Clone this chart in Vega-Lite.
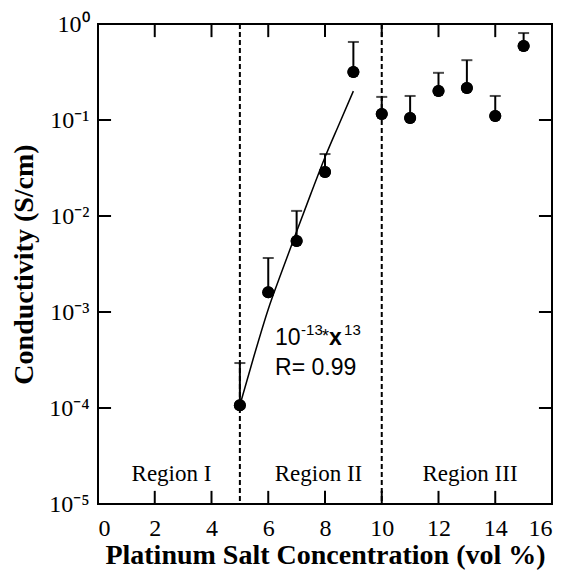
{
  "$schema": "https://vega.github.io/schema/vega-lite/v6.json",
  "width": 454,
  "height": 480,
  "autosize": {"type": "none"},
  "padding": {"left": 98, "top": 24, "right": 14, "bottom": 67},
  "background": "white",
  "config": {
    "view": {"stroke": "black", "strokeWidth": 2}
  },
  "datasets": {
    "measured": [
      {"conc": 5, "sigma": 0.000107, "upper": 0.000294},
      {"conc": 6, "sigma": 0.00161, "upper": 0.00365},
      {"conc": 7, "sigma": 0.0055, "upper": 0.0113},
      {"conc": 8, "sigma": 0.0287, "upper": 0.0442},
      {"conc": 9, "sigma": 0.316, "upper": 0.65},
      {"conc": 10, "sigma": 0.1155, "upper": 0.174},
      {"conc": 11, "sigma": 0.105, "upper": 0.178},
      {"conc": 12, "sigma": 0.2, "upper": 0.31},
      {"conc": 13, "sigma": 0.215, "upper": 0.42},
      {"conc": 14, "sigma": 0.11, "upper": 0.178},
      {"conc": 15, "sigma": 0.59, "upper": 0.805}
    ],
    "powerfit": [
      {"conc": 5, "sigma": 0.000107},
      {"conc": 5.5, "sigma": 0.00035},
      {"conc": 6, "sigma": 0.00107},
      {"conc": 6.5, "sigma": 0.00275},
      {"conc": 7, "sigma": 0.0069},
      {"conc": 7.5, "sigma": 0.017},
      {"conc": 8, "sigma": 0.041},
      {"conc": 8.5, "sigma": 0.091},
      {"conc": 9, "sigma": 0.2}
    ],
    "boundaries": [{"conc": 5}, {"conc": 10}],
    "concTicks": [{"conc": 0}, {"conc": 2}, {"conc": 4}, {"conc": 6}, {"conc": 8}, {"conc": 10}, {"conc": 12}, {"conc": 14}, {"conc": 16}],
    "sigmaTicks": [{"sigma": 0.00001}, {"sigma": 0.0001}, {"sigma": 0.001}, {"sigma": 0.01}, {"sigma": 0.1}, {"sigma": 1}],
    "regions": [
      {"name": "Region I", "conc": 2.59, "sigma": 0.0000174},
      {"name": "Region II", "conc": 7.77, "sigma": 0.0000174},
      {"name": "Region III", "conc": 13.11, "sigma": 0.0000174}
    ],
    "fitlabel": [
      {"conc": 6.24, "sigma": 0.000453, "base": "10", "exponent": "-13", "op": "*", "variable": "x", "power": "13"}
    ],
    "fitstat": [
      {"conc": 6.24, "sigma": 0.000221, "label": "R= 0.99"}
    ]
  },
  "layer": [
    {
      "data": {"name": "measured"},
      "mark": {"type": "point", "shape": "circle", "filled": true, "color": "black", "opacity": 1, "size": 144},
      "encoding": {
        "x": {"field": "conc", "type": "quantitative",
              "scale": {"domain": [0, 16], "nice": false},
              "axis": {"orient": "bottom", "values": [0, 2, 4, 6, 8, 10, 12, 14, 16],
                       "domain": false, "grid": false, "ticks": false,
                       "labelPadding": 12, "labelColor": "black", "labelFont": "Liberation Serif", "labelFontSize": 24,
                       "title": "Platinum Salt Concentration (vol %)", "titlePadding": 1,
                       "titleColor": "black", "titleFont": "Liberation Serif", "titleFontWeight": "bold", "titleFontSize": 28}},
        "y": {"field": "sigma", "type": "quantitative",
              "scale": {"type": "log", "domain": [0.00001, 1], "nice": false},
              "axis": {"orient": "left", "values": [0.00001, 0.0001, 0.001, 0.01, 0.1, 1],
                       "domain": false, "grid": false, "ticks": false,
                       "labelPadding": 9, "labelColor": "black", "labelFont": "Liberation Serif", "labelFontSize": 24,
                       "labelExpr": "'10' + (datum.value >= 0.5 ? '⁰' : datum.value >= 0.05 ? '⁻¹' : datum.value >= 0.005 ? '⁻²' : datum.value >= 0.0005 ? '⁻³' : datum.value >= 0.00005 ? '⁻⁴' : '⁻⁵')",
                       "title": "Conductivity (S/cm)", "titlePadding": 10,
                       "titleColor": "black", "titleFont": "Liberation Serif", "titleFontWeight": "bold", "titleFontSize": 28}}
      }
    },
    {
      "data": {"name": "boundaries"},
      "mark": {"type": "rule", "color": "black", "strokeWidth": 2, "strokeDash": [5, 3]},
      "encoding": {
        "x": {"field": "conc", "type": "quantitative"}
      }
    },
    {
      "data": {"name": "concTicks"},
      "mark": {"type": "rule", "color": "black", "strokeWidth": 2},
      "encoding": {
        "x": {"field": "conc", "type": "quantitative"},
        "y": {"datum": 0.00001, "type": "quantitative"},
        "y2": {"datum": 0.0000137}
      }
    },
    {
      "data": {"name": "concTicks"},
      "mark": {"type": "rule", "color": "black", "strokeWidth": 2},
      "encoding": {
        "x": {"field": "conc", "type": "quantitative"},
        "y": {"datum": 1, "type": "quantitative"},
        "y2": {"datum": 0.73}
      }
    },
    {
      "data": {"name": "sigmaTicks"},
      "mark": {"type": "rule", "color": "black", "strokeWidth": 2},
      "encoding": {
        "y": {"field": "sigma", "type": "quantitative"},
        "x": {"datum": 0, "type": "quantitative"},
        "x2": {"datum": 0.46}
      }
    },
    {
      "data": {"name": "sigmaTicks"},
      "mark": {"type": "rule", "color": "black", "strokeWidth": 2},
      "encoding": {
        "y": {"field": "sigma", "type": "quantitative"},
        "x": {"datum": 16, "type": "quantitative"},
        "x2": {"datum": 15.54}
      }
    },
    {
      "data": {"name": "powerfit"},
      "mark": {"type": "line", "color": "black", "strokeWidth": 1.5, "interpolate": "monotone"},
      "encoding": {
        "x": {"field": "conc", "type": "quantitative"},
        "y": {"field": "sigma", "type": "quantitative"}
      }
    },
    {
      "data": {"name": "measured"},
      "mark": {"type": "rule", "color": "black", "strokeWidth": 2},
      "encoding": {
        "x": {"field": "conc", "type": "quantitative"},
        "y": {"field": "sigma", "type": "quantitative"},
        "y2": {"field": "upper"}
      }
    },
    {
      "data": {"name": "measured"},
      "mark": {"type": "tick", "orient": "horizontal", "color": "black", "thickness": 2, "size": 11},
      "encoding": {
        "x": {"field": "conc", "type": "quantitative"},
        "y": {"field": "upper", "type": "quantitative"}
      }
    },
    {
      "data": {"name": "measured"},
      "mark": {"type": "point", "shape": "circle", "filled": true, "color": "black", "opacity": 1, "size": 144},
      "encoding": {
        "x": {"field": "conc", "type": "quantitative"},
        "y": {"field": "sigma", "type": "quantitative"}
      }
    },
    {
      "data": {"name": "regions"},
      "mark": {"type": "text", "font": "Liberation Serif", "fontSize": 23, "color": "black", "align": "center", "baseline": "alphabetic"},
      "encoding": {
        "x": {"field": "conc", "type": "quantitative"},
        "y": {"field": "sigma", "type": "quantitative"},
        "text": {"field": "name"}
      }
    },
    {
      "data": {"name": "fitlabel"},
      "mark": {"type": "text", "font": "Liberation Sans", "fontSize": 23, "color": "black", "align": "left", "baseline": "alphabetic"},
      "encoding": {
        "x": {"field": "conc", "type": "quantitative"},
        "y": {"field": "sigma", "type": "quantitative"},
        "text": {"field": "base"}
      }
    },
    {
      "data": {"name": "fitlabel"},
      "mark": {"type": "text", "font": "Liberation Sans", "fontSize": 15, "color": "black", "align": "left", "baseline": "alphabetic", "dx": 26, "dy": -10},
      "encoding": {
        "x": {"field": "conc", "type": "quantitative"},
        "y": {"field": "sigma", "type": "quantitative"},
        "text": {"field": "exponent"}
      }
    },
    {
      "data": {"name": "fitlabel"},
      "mark": {"type": "text", "font": "Liberation Sans", "fontSize": 18, "color": "black", "align": "left", "baseline": "alphabetic", "dx": 47, "dy": -3},
      "encoding": {
        "x": {"field": "conc", "type": "quantitative"},
        "y": {"field": "sigma", "type": "quantitative"},
        "text": {"field": "op"}
      }
    },
    {
      "data": {"name": "fitlabel"},
      "mark": {"type": "text", "font": "Liberation Sans", "fontSize": 23, "fontWeight": "bold", "color": "black", "align": "left", "baseline": "alphabetic", "dx": 54},
      "encoding": {
        "x": {"field": "conc", "type": "quantitative"},
        "y": {"field": "sigma", "type": "quantitative"},
        "text": {"field": "variable"}
      }
    },
    {
      "data": {"name": "fitlabel"},
      "mark": {"type": "text", "font": "Liberation Sans", "fontSize": 15, "color": "black", "align": "left", "baseline": "alphabetic", "dx": 69, "dy": -10},
      "encoding": {
        "x": {"field": "conc", "type": "quantitative"},
        "y": {"field": "sigma", "type": "quantitative"},
        "text": {"field": "power"}
      }
    },
    {
      "data": {"name": "fitstat"},
      "mark": {"type": "text", "font": "Liberation Sans", "fontSize": 23, "color": "black", "align": "left", "baseline": "alphabetic"},
      "encoding": {
        "x": {"field": "conc", "type": "quantitative"},
        "y": {"field": "sigma", "type": "quantitative"},
        "text": {"field": "label"}
      }
    }
  ]
}
